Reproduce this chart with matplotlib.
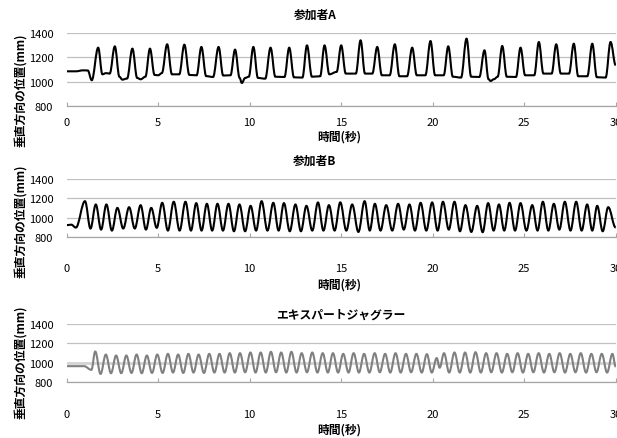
import matplotlib
matplotlib.use('Agg')
import matplotlib.pyplot as plt
from matplotlib.path import Path
from matplotlib.patches import PathPatch

plt.rcParams['font.family'] = ['Noto Sans CJK JP', 'DejaVu Sans']

# data: (time in s, vertical position in mm)
# participant A: peaks plus start/end of the flat troughs
a_pts = [(0.0, 1085), (0.5, 1085), (0.9, 1093), (1.15, 1092), (1.37, 1011), (1.72, 1281),
         (1.95, 1060), (2.15, 1070), (2.35, 1066), (2.63, 1292), (2.88, 1040), (3.04, 1016),
         (3.3, 1025), (3.59, 1273), (3.85, 1030), (4.04, 1019), (4.3, 1040), (4.55, 1273),
         (4.8, 1055), (5.0, 1052), (5.2, 1070), (5.49, 1309), (5.75, 1060), (6.15, 1060),
         (6.43, 1306), (6.7, 1055), (7.1, 1052), (7.36, 1287), (7.62, 1045), (8.0, 1038),
         (8.30, 1287), (8.55, 1050), (8.95, 1052), (9.20, 1265), (9.45, 1030), (9.57, 988),
         (9.75, 1030), (9.95, 1040), (10.2, 1287), (10.45, 1030), (10.85, 1024), (11.14, 1281),
         (11.4, 1040), (11.9, 1038), (12.16, 1281), (12.42, 1035), (12.88, 1033), (13.13, 1300),
         (13.4, 1040), (13.85, 1044), (14.09, 1300), (14.35, 1060), (14.75, 1080), (15.0, 1300),
         (15.25, 1066), (15.8, 1066), (16.06, 1342), (16.3, 1066), (16.7, 1066), (16.97, 1287),
         (17.22, 1052), (17.65, 1052), (17.93, 1309), (18.18, 1044), (18.6, 1044), (18.88, 1281),
         (19.13, 1052), (19.6, 1052), (19.88, 1336), (20.13, 1052), (20.6, 1052), (20.85, 1292),
         (21.1, 1040), (21.55, 1033), (21.85, 1356), (22.1, 1040), (22.55, 1038), (22.83, 1259),
         (23.05, 1020), (23.16, 1005), (23.35, 1020), (23.55, 1040), (23.80, 1295), (24.05, 1040),
         (24.55, 1038), (24.80, 1281), (25.05, 1052), (25.55, 1052), (25.80, 1328), (26.05, 1066),
         (26.5, 1066), (26.75, 1309), (27.0, 1066), (27.45, 1066), (27.71, 1314), (27.95, 1044),
         (28.45, 1044), (28.72, 1314), (28.97, 1036), (29.45, 1033), (29.72, 1328), (30.0, 1135)]

# participant B: peaks and troughs
b_pts = [(0.0, 925), (0.25, 930), (0.5, 900), (1.00, 1172), (1.30, 890), (1.59, 1138),
         (1.88, 879), (2.17, 1138), (2.47, 869), (2.77, 1103), (3.09, 890), (3.41, 1110),
         (3.72, 890), (4.04, 1131), (4.33, 879), (4.62, 1103), (4.92, 897), (5.22, 1155),
         (5.53, 869), (5.85, 1166), (6.17, 869), (6.49, 1166), (6.79, 869), (7.08, 1152),
         (7.37, 869), (7.66, 1145), (7.95, 869), (8.24, 1145), (8.54, 869), (8.84, 1145),
         (9.14, 862), (9.44, 1138), (9.75, 862), (10.05, 1124), (10.35, 869), (10.65, 1172),
         (10.97, 869), (11.29, 1155), (11.58, 869), (11.87, 1152), (12.19, 862), (12.50, 1138),
         (12.80, 862), (13.10, 1124), (13.42, 869), (13.73, 1159), (14.03, 869), (14.33, 1131),
         (14.64, 869), (14.95, 1160), (15.28, 869), (15.60, 1138), (15.94, 855), (16.28, 1172),
         (16.56, 869), (16.84, 1145), (17.15, 869), (17.46, 1131), (17.79, 869), (18.11, 1145),
         (18.42, 879), (18.73, 1138), (19.03, 869), (19.34, 1155), (19.65, 869), (19.97, 1159),
         (20.27, 869), (20.56, 1166), (20.88, 879), (21.19, 1166), (21.49, 862), (21.79, 1131),
         (22.11, 855), (22.43, 1124), (22.73, 852), (23.03, 1152), (23.33, 869), (23.62, 1138),
         (23.91, 869), (24.20, 1155), (24.50, 869), (24.80, 1152), (25.12, 869), (25.44, 1131),
         (25.73, 869), (26.02, 1166), (26.32, 869), (26.62, 1145), (26.92, 879), (27.22, 1166),
         (27.53, 869), (27.84, 1166), (28.14, 869), (28.44, 1138), (28.72, 869), (28.99, 1124),
         (29.29, 862), (29.59, 1110), (30.0, 900)]

# expert juggler: peaks and troughs
c_pts = [(0.0, 966), (0.95, 966), (1.35, 928), (1.56, 1117), (1.85, 886), (2.14, 1086),
         (2.42, 893), (2.70, 1076), (2.98, 893), (3.26, 1076), (3.54, 896), (3.82, 1086),
         (4.10, 893), (4.38, 1076), (4.66, 896), (4.95, 1086), (5.24, 896), (5.53, 1093),
         (5.81, 900), (6.09, 1086), (6.37, 896), (6.65, 1093), (6.93, 900), (7.21, 1086),
         (7.50, 896), (7.79, 1093), (8.07, 900), (8.35, 1093), (8.63, 900), (8.91, 1100),
         (9.19, 900), (9.47, 1100), (9.75, 903), (10.04, 1107), (10.32, 900), (10.60, 1107),
         (10.88, 900), (11.16, 1114), (11.44, 903), (11.72, 1107), (12.00, 900), (12.28, 1114),
         (12.56, 900), (12.84, 1100), (13.13, 903), (13.42, 1107), (13.70, 900), (13.99, 1100),
         (14.27, 900), (14.55, 1100), (14.83, 900), (15.11, 1093), (15.40, 900), (15.68, 1100),
         (15.97, 900), (16.25, 1093), (16.54, 900), (16.83, 1100), (17.11, 903), (17.40, 1093),
         (17.68, 900), (17.97, 1100), (18.25, 900), (18.54, 1093), (18.82, 903), (19.11, 1093),
         (19.40, 900), (19.68, 1090), (19.95, 900), (20.22, 1050), (20.38, 950), (20.62, 1100),
         (20.90, 900), (21.19, 1107), (21.48, 900), (21.77, 1107), (22.05, 900), (22.34, 1110),
         (22.63, 900), (22.92, 1100), (23.20, 903), (23.49, 1100), (23.78, 900), (24.07, 1093),
         (24.35, 903), (24.64, 1100), (24.93, 900), (25.22, 1093), (25.50, 903), (25.79, 1100),
         (26.08, 900), (26.37, 1093), (26.65, 903), (26.94, 1100), (27.23, 900), (27.52, 1093),
         (27.80, 903), (28.09, 1100), (28.38, 900), (28.67, 1093), (28.95, 903), (29.24, 1093),
         (29.53, 900), (29.82, 1093), (30.0, 960)]

titles = ['参加者A', '参加者B', 'エキスパートジャグラー']
x_ticks = [0, 5, 10, 15, 20, 25, 30]
y_ticks = [800, 1000, 1200, 1400]
xlabel = '時間(秒)'
ylabel = '垂直方向の位置(mm)'

W, H = 617, 439
LEFT, RIGHT = 66.7, 615.7

# layout per panel in pixels: axes top/bottom, title pos, xlabel y, ylabel y, x tick pad
layout = [
    dict(data=a_pts, color='black', top=34.3, bottom=106.7, title=(315, 15), xl=137, yl=90, pad=8),
    dict(data=b_pts, color='black', top=180.0, bottom=238.3, title=(315, 161), xl=285, yl=221, pad=18.5),
    dict(data=c_pts, color='#808080', top=325.0, bottom=383.3, title=(341, 315), xl=430, yl=362, pad=19),
]


def curve_through(pts):
    # bezier segments through the read extrema, flat tangent at each one
    verts = [pts[0]]
    codes = [Path.MOVETO]
    for (t0, v0), (t1, v1) in zip(pts[:-1], pts[1:]):
        d = (t1 - t0) * 0.37
        verts += [(t0 + d, v0), (t1 - d, v1), (t1, v1)]
        codes += [Path.CURVE4] * 3
    return Path(verts, codes)


fig = plt.figure(figsize=(W / 100, H / 100), dpi=100)

for title, p in zip(titles, layout):
    ax = fig.add_axes([LEFT / W, 1 - p['bottom'] / H, (RIGHT - LEFT) / W,
                       (p['bottom'] - p['top']) / H])
    if p['color'] != 'black':
        ax.axhline(1000, color='#d4d4d4', lw=2.0, zorder=1.5)
    ax.add_patch(PathPatch(curve_through(p['data']), fill=False, edgecolor=p['color'],
                           lw=1.5, joinstyle='round', zorder=3))
    ax.set_xlim(0, 30)
    ax.set_ylim(800, 1400)
    ax.set_xticks(x_ticks)
    ax.set_yticks(y_ticks)
    ax.grid(axis='y', color='#c0c0c0', lw=0.9)
    ax.set_axisbelow(True)
    for s in ['top', 'left', 'right']:
        ax.spines[s].set_visible(False)
    ax.spines['bottom'].set_color('#a6a6a6')
    ax.spines['bottom'].set_linewidth(0.9)
    ax.tick_params(axis='y', length=0, pad=9.6, labelsize=8)
    ax.tick_params(axis='x', direction='in', length=3, color='#a6a6a6', pad=p['pad'], labelsize=8)

    fig.text(p['title'][0] / W, 1 - p['title'][1] / H, title, ha='center', va='center',
             fontsize=8.5, fontweight='bold')
    fig.text(339 / W, 1 - p['xl'] / H, xlabel, ha='center', va='center',
             fontsize=8.5, fontweight='bold')
    fig.text(21 / W, 1 - p['yl'] / H, ylabel, ha='center', va='center', rotation=90,
             fontsize=8.5, fontweight='bold')

fig.savefig('out.png', dpi=100)
